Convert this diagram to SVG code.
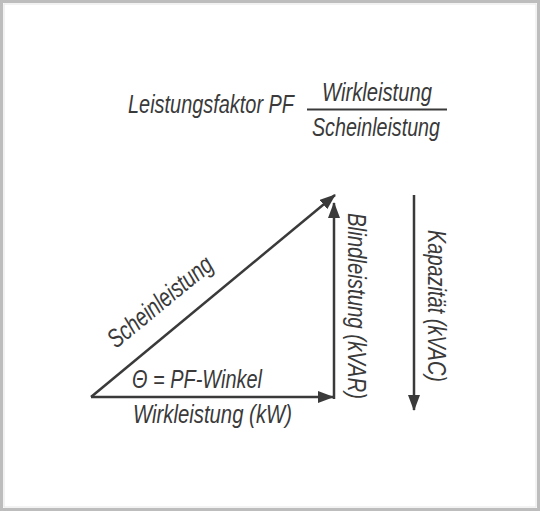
<svg xmlns="http://www.w3.org/2000/svg" width="540" height="511" viewBox="0 0 540 511">
<defs>
<style>
.t{font-family:"Liberation Sans","DejaVu Sans",sans-serif;font-style:italic;font-size:26px;fill:#3a3a3a}
.ln{stroke:#3a3a3a;stroke-width:2.5;fill:none}
</style>
<marker id="ah" viewBox="0 0 16 12" refX="15" refY="6" markerWidth="16" markerHeight="12" markerUnits="userSpaceOnUse" orient="auto">
<path d="M0,0 L16,6 L0,12 Z" fill="#3a3a3a"/>
</marker>
</defs>
<rect x="0" y="0" width="540" height="511" fill="#ffffff"/>
<rect x="1.5" y="1.5" width="537" height="508" fill="none" stroke="#bdbdbd" stroke-width="3"/>
<rect x="4" y="4" width="532" height="503" fill="none" stroke="#e6e6e6" stroke-width="1"/>

<g id="formula">
<text class="t" x="128" y="113" textLength="166" lengthAdjust="spacingAndGlyphs">Leistungsfaktor PF</text>
<text class="t" x="322" y="101" textLength="110" lengthAdjust="spacingAndGlyphs">Wirkleistung</text>
<line x1="307" y1="109.5" x2="447" y2="109.5" stroke="#3a3a3a" stroke-width="2"/>
<text class="t" x="312" y="136" textLength="128" lengthAdjust="spacingAndGlyphs">Scheinleistung</text>
</g>

<g id="connectors">
<line class="ln" x1="91" y1="397" x2="333" y2="397" marker-end="url(#ah)"/>
<line class="ln" x1="334" y1="399" x2="334" y2="203" marker-end="url(#ah)"/>
<line class="ln" x1="91" y1="397" x2="335" y2="195" marker-end="url(#ah)"/>
<line class="ln" x1="414" y1="195" x2="414" y2="410" marker-end="url(#ah)"/>
</g>

<g id="label-schein">
<text class="t" transform="translate(116,349) rotate(-39.4)" textLength="128" lengthAdjust="spacingAndGlyphs">Scheinleistung</text>
</g>
<g id="label-winkel">
<text class="t" x="132" y="388" textLength="130" lengthAdjust="spacingAndGlyphs">Θ = PF-Winkel</text>
</g>
<g id="label-wirk">
<text class="t" x="133" y="423" textLength="159" lengthAdjust="spacingAndGlyphs">Wirkleistung (kW)</text>
</g>
<g id="label-blind">
<text class="t" transform="translate(348,213) rotate(90)" textLength="186" lengthAdjust="spacingAndGlyphs">Blindleistung (kVAR)</text>
</g>
<g id="label-kapazitaet">
<text class="t" transform="translate(428,230) rotate(90)" textLength="152" lengthAdjust="spacingAndGlyphs">Kapazität (kVAC)</text>
</g>
</svg>
